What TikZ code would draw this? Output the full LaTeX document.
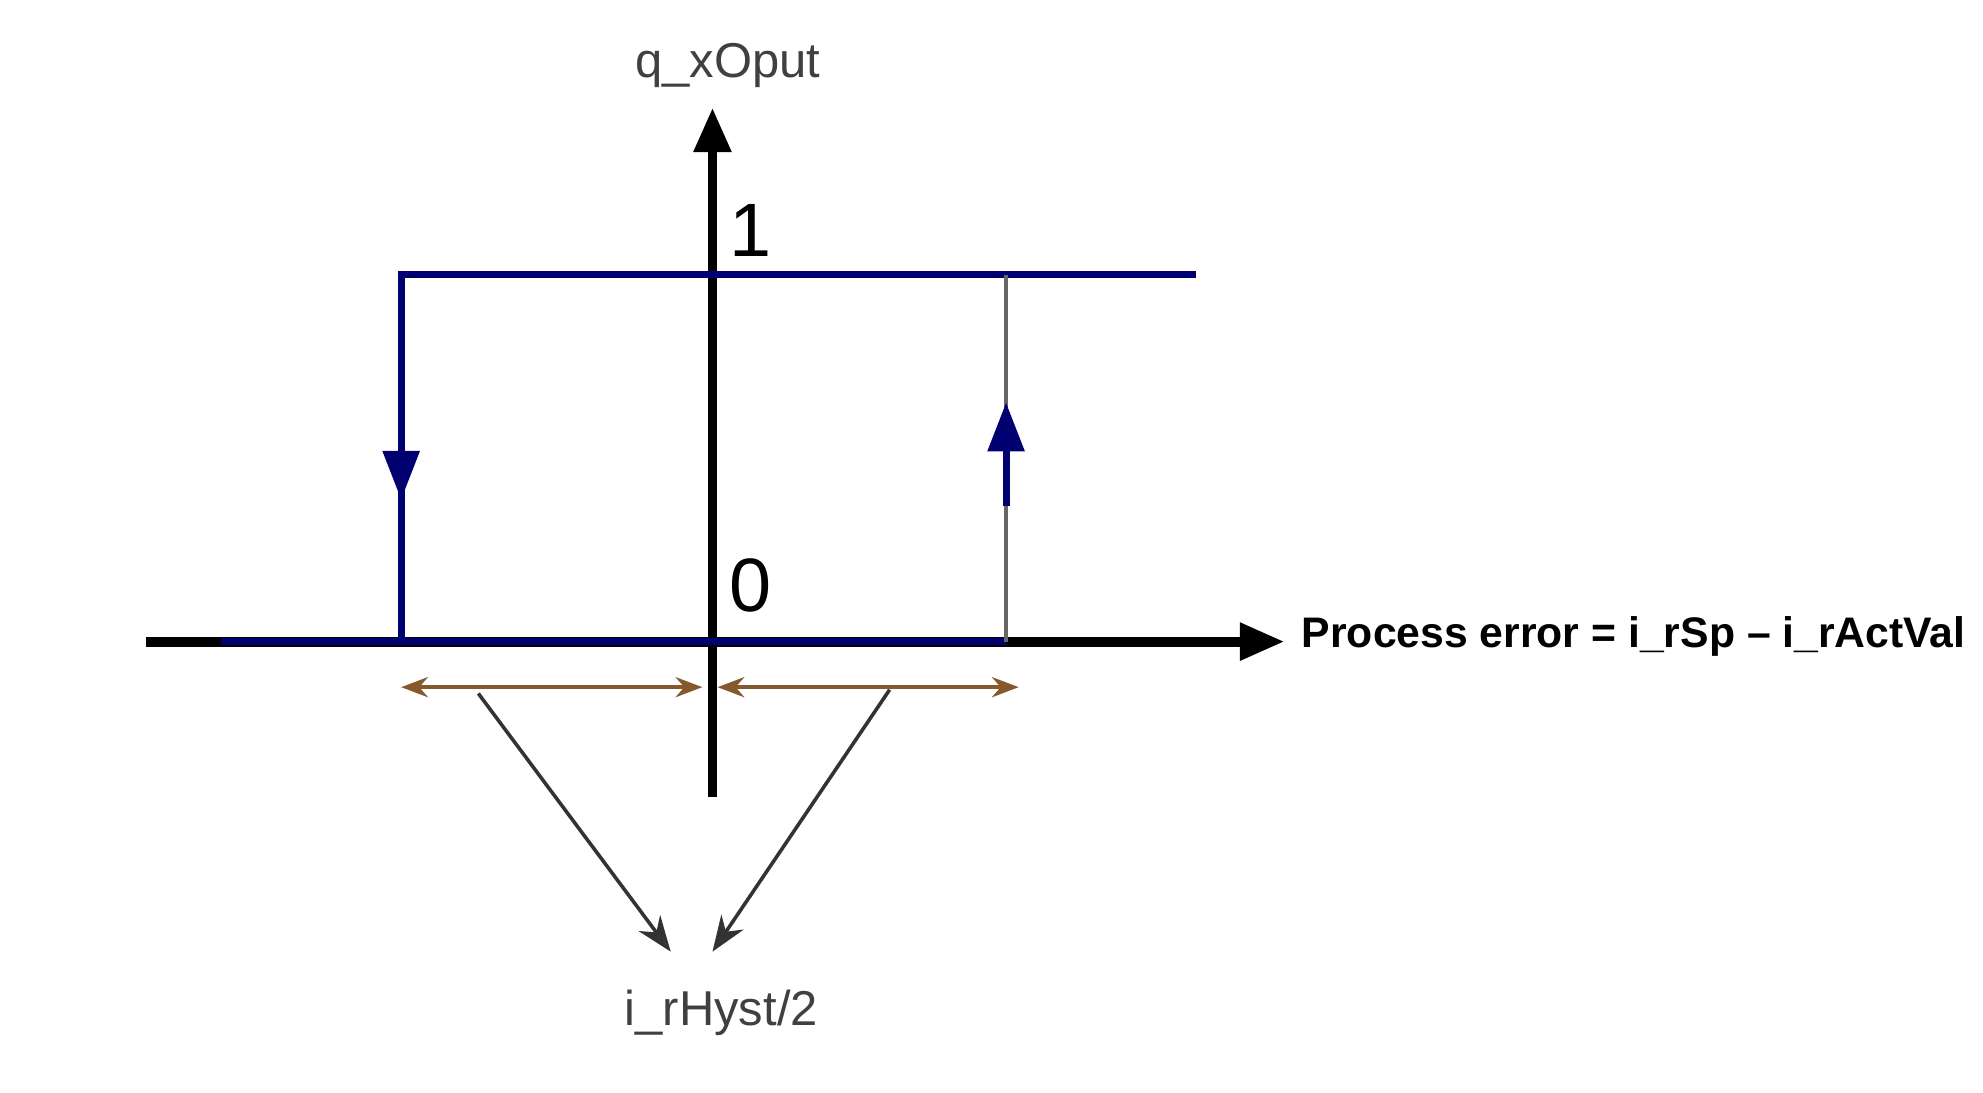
\documentclass[tikz,border=0pt]{standalone}
\usepackage{fontspec}
\setmainfont{Liberation Sans}
\usetikzlibrary{arrows.meta}

\begin{document}
\begin{tikzpicture}[
    x=0.01cm, y=-0.01cm,
    axis/.style={black, line width=2.2pt, -{Triangle[length=10pt,width=8pt]}},
    curve/.style={blue!30!black!80!blue, line width=1.6pt},
    hyst/.style={brown!70!black, line width=0.9pt, {Stealth[length=6pt]}-{Stealth[length=6pt]}},
    pointer/.style={black!80, line width=0.8pt, -{Stealth[length=8pt]}},
    lbl/.style={font=\fontsize{11}{13}\selectfont, text=black!75}
    ]
    \useasboundingbox (0,0) rectangle (1567,863);

    % axes
    \coordinate (xstart) at (115,507);
    \coordinate (xend) at (1015,507);
    \coordinate (ystart) at (563,630);
    \coordinate (yend) at (563,85);
    \draw[axis] (xstart) -- (xend);
    \draw[axis] (ystart) -- (yend);
    \node[lbl] (ylabel) at (575,52) {q\_xOput};
    \node[anchor=west, inner sep=0pt, font=\bfseries\fontsize{9.6}{11}\selectfont] (xlabel) at (1028,503) {Process error = i\_rSp – i\_rActVal};
    \node[font=\fontsize{17}{19}\selectfont] (one) at (593,182) {1};
    \node[font=\fontsize{17}{19}\selectfont] (zero) at (593,463) {0};

    % hysteresis curve
    \coordinate (tl) at (317,217);
    \coordinate (tr) at (945,217);
    \coordinate (bl) at (317,507);
    \coordinate (br) at (795,507);
    \coordinate (rt) at (795,217);
    \draw[curve] (tr) -- (tl) -- (bl);
    \draw[curve] (175,507) -- (br);
    \draw[black!60, line width=0.9pt] (br) -- (rt);
    \draw[curve, -{Triangle[length=11pt,width=8pt]}] (tl) -- (317,395);
    \draw[curve, -{Triangle[length=11pt,width=8pt]}] (795,400) -- (795,318);

    % half hysteresis
    \coordinate (h1) at (317,543);
    \coordinate (h2) at (555,543);
    \coordinate (h3) at (567,543);
    \coordinate (h4) at (805,543);
    \draw[hyst] (h1) -- (h2);
    \draw[hyst] (h3) -- (h4);
    \node[lbl, anchor=north] (hyst) at (570,770) {i\_rHyst/2};
    \draw[pointer] (378,548) -- (530,752);
    \draw[pointer] (703,545) -- (563,752);
\end{tikzpicture}
\end{document}
